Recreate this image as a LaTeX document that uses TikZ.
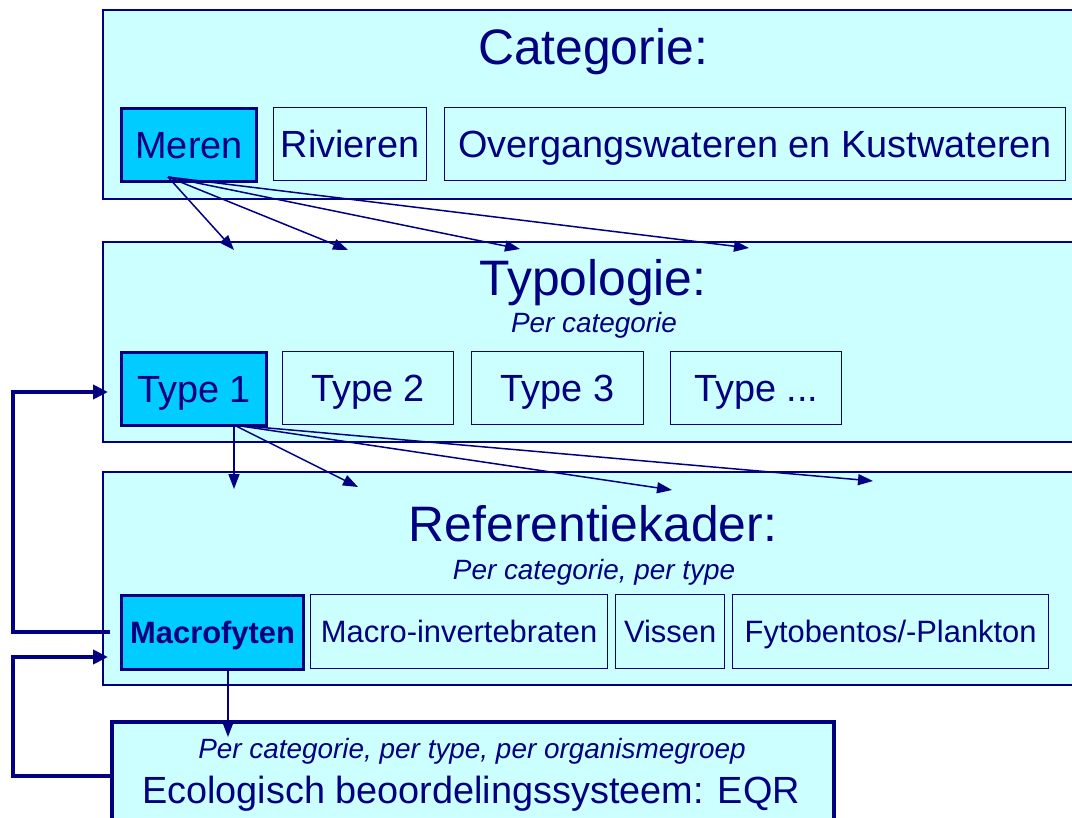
\documentclass[tikz,border=0pt]{standalone}
\usepackage{fontspec}
\setmainfont{Liberation Sans}
\usetikzlibrary{arrows.meta}
\definecolor{navy}{RGB}{0,0,128}
\definecolor{lightcyan}{RGB}{204,255,255}
\definecolor{hicyan}{RGB}{0,204,255}
\begin{document}
\begin{tikzpicture}[x=1bp,y=-1bp,
  panel/.style={draw=navy, line width=1.8bp, fill=lightcyan, anchor=north west, inner sep=0},
  item/.style={draw=navy, line width=1.3bp, fill=lightcyan, anchor=north west, inner sep=0, text=navy, align=center},
  big/.style={item, font=\fontsize{38}{40}\selectfont, text height=27bp, text depth=0bp, minimum height=73bp},
  small/.style={item, font=\fontsize{31}{33}\selectfont, text height=22bp, text depth=0bp, minimum height=74bp},
  hi/.style={fill=hicyan, line width=3.2bp},
  title/.style={anchor=base, text=navy, font=\fontsize{50}{55}\selectfont, inner sep=0},
  sub/.style={anchor=base, text=navy, font=\fontsize{28}{30}\selectfont\itshape, inner sep=0},
  link/.style={draw=navy, line width=1.5bp, -{Triangle[length=15bp,width=11bp]}},
  back/.style={draw=navy, line width=4bp, -{Triangle[length=15bp,width=14bp]}}
]
\useasboundingbox (0,0) rectangle (1072,818);
\clip (0,0) rectangle (1072,818);

% panels
\node[panel, minimum width=978bp, minimum height=189bp] (p1) at (102,9) {};
\node[panel, minimum width=978bp, minimum height=200bp] (p2) at (102,241) {};
\node[panel, minimum width=978bp, minimum height=213bp] (p3) at (102,471) {};
\node[panel, line width=4bp, minimum width=722bp, minimum height=130bp] (p4) at (110,720) {};

% titles
\node[title] (t1) at (593,65) {Categorie:};
\node[title] (t2) at (593,295) {Typologie:};
\node[sub] (s2) at (594,332) {Per categorie};
\node[title] (t3) at (593,541) {Referentiekader:};
\node[sub] (s3) at (594,579) {Per categorie, per type};
\node[sub] (s4) at (472,758) {Per categorie, per type, per organismegroep};
\node[anchor=base, text=navy, font=\fontsize{38}{40}\selectfont, inner sep=0] (t4) at (471,803) {Ecologisch beoordelingssysteem: EQR};

% items
\node[big, hi, minimum width=135bp] (meren) at (120,107) {Meren};
\node[big, minimum width=153bp] (rivieren) at (273,107) {Rivieren};
\node[big, minimum width=621bp] (overg) at (444,107) {Overgangswateren en Kustwateren};

\node[big, hi, minimum width=145bp] (type1) at (120,351) {Type 1};
\node[big, minimum width=171bp] (type2) at (282,351) {Type 2};
\node[big, minimum width=172bp] (type3) at (471,351) {Type 3};
\node[big, minimum width=171bp] (typeN) at (670,351) {Type ...};

\node[small, hi, minimum width=182bp, font=\fontsize{31}{33}\selectfont\bfseries] (macro) at (120,594) {Macrofyten};
\node[small, minimum width=297bp] (invert) at (310,594) {Macro-invertebraten};
\node[small, minimum width=109bp] (vissen) at (615,594) {Vissen};
\node[small, minimum width=316bp] (fyto) at (732,594) {Fytobentos/-Plankton};

% arrow ends
\coordinate (ms) at (168,177);
\coordinate (a1) at (234,250);
\coordinate (a2) at (348,250);
\coordinate (a3) at (520,249);
\coordinate (a4) at (749,248);
\coordinate (ts) at (234,425);
\coordinate (b1) at (234,489);
\coordinate (b2) at (358,487);
\coordinate (b3) at (672,490);
\coordinate (b4) at (873,481);
\coordinate (mcs) at (228,668);
\coordinate (mce) at (228,737);

\draw[link] (ms) -- (a1);
\draw[link] (ms) -- (a2);
\draw[link] (ms) -- (a3);
\draw[link] (ms) -- (a4);
\draw[link] (ts) -- (b1);
\draw[link] (ts) -- (b2);
\draw[link] (ts) -- (b3);
\draw[link] (ts) -- (b4);
\draw[link] (mcs) -- (mce);

% feedback loops
\coordinate (f1s) at (110,632);
\coordinate (f1e) at (108,392);
\coordinate (f2s) at (110,776);
\coordinate (f2e) at (108,657);
\draw[back] (f1s) -- (13,632) -- (13,392) -- (f1e);
\draw[back] (f2s) -- (13,776) -- (13,657) -- (f2e);
\end{tikzpicture}
\end{document}
